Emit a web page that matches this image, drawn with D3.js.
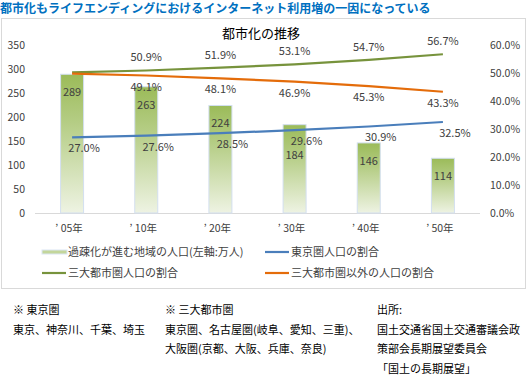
<!DOCTYPE html>
<html>
<head>
<meta charset="utf-8">
<script src="https://cdn.jsdelivr.net/npm/d3@7"></script>
<style>
  body { margin:0; background:#fff; font-family:"Noto Sans CJK JP", sans-serif; }
  text { font-family:"Noto Sans CJK JP", sans-serif; }
</style>
</head>
<body>
<div id="chart"></div>
<script>
const width = 529, height = 375
const years = ['’ 05年', '’ 10年', '’ 20年', '’ 30年', '’ 40年', '’ 50年']
const ruralPop = [289, 263, 224, 184, 146, 114]
const tokyoShare = [27.0, 27.6, 28.5, 29.6, 30.9, 32.5]
const metroShare = [50.2, 50.9, 51.9, 53.1, 54.7, 56.7]
const otherShare = [49.8, 49.1, 48.1, 46.9, 45.3, 43.3]
const leftTicks = [0, 50, 100, 150, 200, 250, 300, 350]
const rightTicks = [0, 10, 20, 30, 40, 50, 60]

const svg = d3.select('#chart').append('svg')
    .attr('width', width).attr('height', height)

// gradient for the bars
const defs = svg.append('defs')
const grad = defs.append('linearGradient').attr('id', 'barGrad')
    .attr('x1', 0).attr('y1', 0).attr('x2', 0).attr('y2', 1)
grad.append('stop').attr('offset', '0%').attr('stop-color', '#9bbb59')
grad.append('stop').attr('offset', '35%').attr('stop-color', '#b5cd85')
grad.append('stop').attr('offset', '100%').attr('stop-color', '#eef3e3')

// page title
svg.append('text').attr('x', 0).attr('y', 13)
    .attr('font-size', 12).attr('font-weight', 'bold').attr('fill', '#0070c0')
    .text('都市化もライフエンディングにおけるインターネット利用増の一因になっている')

// chart frame
svg.append('rect').attr('x', 1.5).attr('y', 18.5).attr('width', 524).attr('height', 270)
    .attr('fill', 'none').attr('stroke', '#d9d9d9')

svg.append('text').attr('x', 261).attr('y', 38).attr('text-anchor', 'middle')
    .attr('font-size', 13).attr('fill', '#000').text('都市化の推移')

const x = d3.scaleBand().domain(years).range([35, 480])
const yL = d3.scaleLinear().domain([0, 350]).range([213, 45])
const yR = d3.scaleLinear().domain([0, 60]).range([213, 45])
const cx = (i) => x(years[i]) + x.bandwidth() / 2

// left axis labels
svg.append('g').selectAll('text').data(leftTicks).enter().append('text')
    .attr('x', 25).attr('y', d => yL(d) + 4).attr('text-anchor', 'end')
    .attr('font-size', 10.5).attr('fill', '#404040').text(d => d)

// right axis labels
svg.append('g').selectAll('text').data(rightTicks).enter().append('text')
    .attr('x', 490).attr('y', d => yR(d) + 4)
    .attr('font-size', 10.5).attr('fill', '#404040').text(d => d3.format('.1f')(d) + '%')

// x axis
svg.append('line').attr('x1', 35).attr('x2', 480).attr('y1', yL(0) + 0.5).attr('y2', yL(0) + 0.5)
    .attr('stroke', '#d9d9d9')
svg.append('g').selectAll('text').data(years).enter().append('text')
    .attr('x', d => x(d) + x.bandwidth() / 2 - 3).attr('y', 232).attr('text-anchor', 'middle')
    .attr('font-size', 10.5).attr('fill', '#404040').text(d => d)

// bars
const barW = 23
svg.append('g').selectAll('rect').data(ruralPop).enter().append('rect')
    .attr('x', (d, i) => cx(i) - barW / 2).attr('y', d => yL(d))
    .attr('width', barW).attr('height', d => yL(0) - yL(d))
    .attr('fill', 'url(#barGrad)').attr('stroke', '#d3dff0').attr('stroke-width', 1)

// lines
const series = [
    {vals: metroShare, color: '#77933c', dx: 0, dy: -9, skipFirst: true},
    {vals: otherShare, color: '#e46c0a', dx: 0, dy: 15, skipFirst: true},
    {vals: tokyoShare, color: '#4a7ebb', dx: 12, dy: 15, skipFirst: false}
]
const line = d3.line().x((d, i) => cx(i)).y(d => yR(d))

// bar values, pushed below the blue label when they would collide
const barLabelY = (d, i) => {
    const b = yL(d) + 22
    const bb = yR(tokyoShare[i]) + 15
    return Math.abs(b - bb) < 12 ? bb + 14 : b
}
svg.append('g').selectAll('text').data(ruralPop).enter().append('text')
    .attr('x', (d, i) => cx(i)).attr('y', barLabelY).attr('text-anchor', 'middle')
    .attr('font-size', 11).attr('fill', '#404040').text(d => d)

series.forEach(s => {
    svg.append('path').datum(s.vals).attr('d', line)
        .attr('fill', 'none').attr('stroke', s.color).attr('stroke-width', 2.2)
})
series.forEach(s => {
    svg.append('g').selectAll('text').data(s.vals).enter()
        .filter((d, i) => !(s.skipFirst && i === 0))
        .append('text')
        .attr('x', (d, i) => cx(s.skipFirst ? i + 1 : i) + s.dx)
        .attr('y', d => yR(d) + s.dy).attr('text-anchor', 'middle')
        .attr('font-size', 11).attr('fill', '#404040').text(d => d3.format('.1f')(d) + '%')
})

// legend
const legendItems = [
    {label: '過疎化が進む地域の人口(左軸:万人)', type: 'bar', x: 42, y: 252},
    {label: '東京圏人口の割合', color: '#4a7ebb', x: 265, y: 252},
    {label: '三大都市圏人口の割合', color: '#77933c', x: 42, y: 273},
    {label: '三大都市圏以外の人口の割合', color: '#e46c0a', x: 265, y: 273}
]
const lg = svg.append('g').selectAll('g').data(legendItems).enter().append('g')
    .attr('transform', d => `translate(${d.x},${d.y})`)
lg.filter(d => d.type === 'bar').append('rect')
    .attr('x', 0).attr('y', -2).attr('width', 25).attr('height', 4)
    .attr('fill', '#c3d69b').attr('stroke', '#dbe6f3').attr('stroke-width', 1)
lg.filter(d => d.type !== 'bar').append('line')
    .attr('x1', 0).attr('x2', 24).attr('y1', 0).attr('y2', 0)
    .attr('stroke', d => d.color).attr('stroke-width', 2.2)
lg.append('text').attr('x', 26).attr('y', 4).attr('font-size', 11).attr('fill', '#404040')
    .text(d => d.label)

// footnotes
const notes = [
    {x: 13, lines: ['※  東京圏', '東京、神奈川、千葉、埼玉']},
    {x: 165, lines: ['※  三大都市圏', '東京圏、名古屋圏(岐阜、愛知、三重)、', '大阪圏(京都、大阪、兵庫、奈良)']},
    {x: 377, lines: ['出所:', '国土交通省国土交通審議会政', '策部会長期展望委員会', '「国土の長期展望」']}
]
notes.forEach(n => {
    svg.append('g').selectAll('text').data(n.lines).enter().append('text')
        .attr('x', n.x).attr('y', (d, i) => 314 + i * 19.5)
        .attr('font-size', 11).attr('fill', '#000').text(d => d)
})
</script>
</body>
</html>
